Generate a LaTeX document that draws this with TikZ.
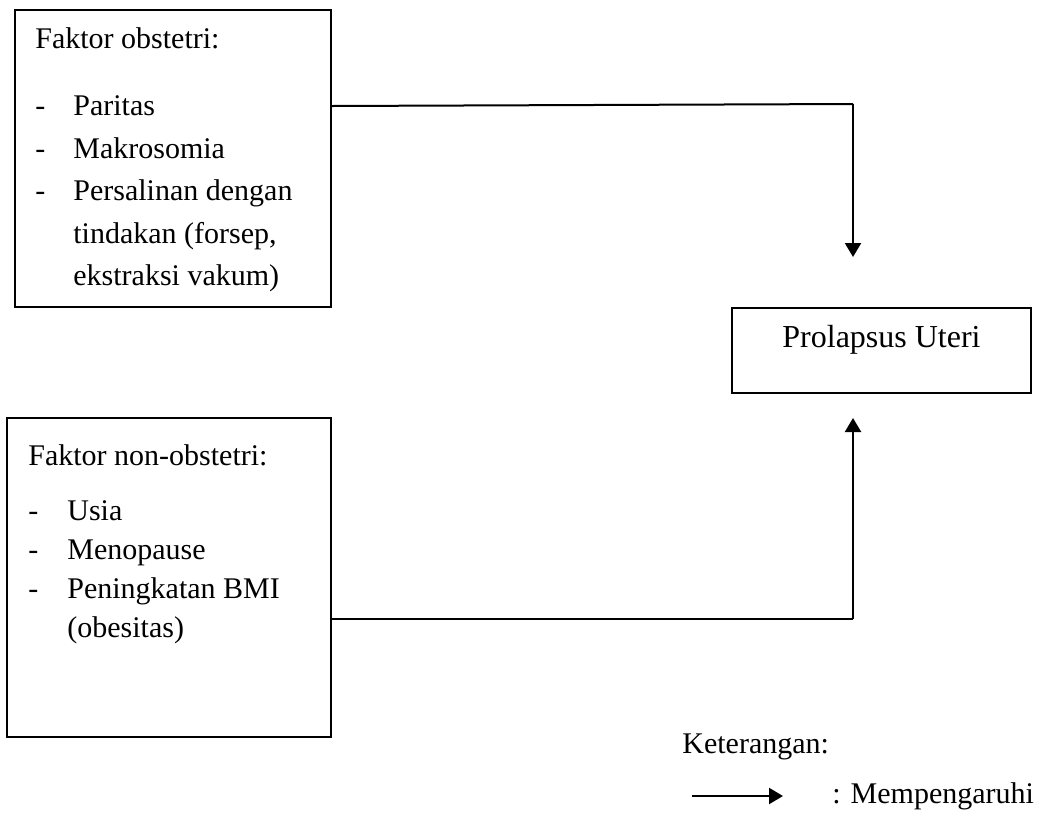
\documentclass[tikz,border=0pt]{standalone}
\usepackage{fontspec}
\setmainfont{Liberation Serif}
\usetikzlibrary{arrows.meta}
\begin{document}
\begin{tikzpicture}[x=0.5pt,y=-0.5pt,
  box/.style={draw, line width=1pt, rectangle, inner sep=0pt},
  txt/.style={inner sep=0pt, anchor=base west, font=\fontsize{15}{18}\selectfont},
  conn/.style={line width=1pt},
  arr/.style={line width=1.1pt, -{Triangle[length=7pt,width=8pt]}}]
\useasboundingbox (0,0) rectangle (1043,815);
% boxes
\node[box, minimum width=158pt, minimum height=148.5pt] (b1) at (173,158.5) {};
\node[box, minimum width=162pt, minimum height=159.5pt] (b2) at (169,577.5) {};
\node[box, minimum width=149.5pt, minimum height=42.5pt] (pu) at (881.5,350.5) {};
% box 1 text
\node[txt] (t10) at (35,48) {Faktor obstetri:};
\node[txt] (d11) at (35,115) {-};
\node[txt] (t11) at (73,115) {Paritas};
\node[txt] (d12) at (35,158) {-};
\node[txt] (t12) at (73,158) {Makrosomia};
\node[txt] (d13) at (35,200) {-};
\node[txt] (t13) at (73,200) {Persalinan dengan};
\node[txt] (t14) at (73,243) {tindakan (forsep,};
\node[txt] (t15) at (73,285) {ekstraksi vakum)};
% box 2 text
\node[txt] (t20) at (28,465) {Faktor non-obstetri:};
\node[txt] (d21) at (28,520) {-};
\node[txt] (t21) at (67,520) {Usia};
\node[txt] (d22) at (28,559) {-};
\node[txt] (t22) at (67,559) {Menopause};
\node[txt] (d23) at (28,598) {-};
\node[txt] (t23) at (67,598) {Peningkatan BMI};
\node[txt] (t24) at (67,637) {(obesitas)};
% result text
\node[inner sep=0pt, anchor=base, font=\fontsize{16}{19}\selectfont] (put) at (881.5,347) {Prolapsus Uteri};
% connectors
\coordinate (c1) at (853,104);
\coordinate (e1) at (853,257);
\coordinate (c2) at (853,619);
\coordinate (e2) at (853,418);
\draw[conn] (b1.east |- 0,106) -- (c1);
\draw[arr] (c1) -- (e1);
\draw[conn] (b2.east |- c2) -- (c2);
\draw[arr] (c2) -- (e2);
% legend
\node[txt] (k) at (682,753) {Keterangan:};
\coordinate (l1) at (692,796);
\coordinate (l2) at (783,796);
\draw[arr] (l1) -- (l2);
\node[txt] (m) at (832,803) {: Mempengaruhi};
\end{tikzpicture}
\end{document}
